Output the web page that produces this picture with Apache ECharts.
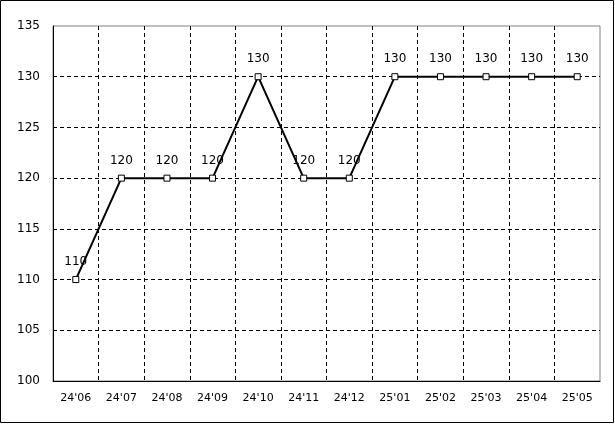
<!DOCTYPE html>
<html>
<head>
<meta charset="utf-8">
<script src="https://cdn.jsdelivr.net/npm/echarts@6/dist/echarts.min.js"></script>
<style>
html,body{margin:0;padding:0;background:#fff;}
#c{width:615px;height:424px;}
</style>
</head>
<body>
<div id="c"></div>
<script>
const categories = ["24'06","24'07","24'08","24'09","24'10","24'11","24'12","25'01","25'02","25'03","25'04","25'05"];
const values = [110,120,120,120,130,120,120,130,130,130,130,130];
const yMin = 100, yMax = 135, yStep = 5;

const chart = echarts.init(document.getElementById('c'), null, {renderer:'canvas'});
chart.setOption({
  animation:false,
  backgroundColor:'#fff',
  graphic:[{type:'rect',shape:{x:0.5,y:0.5,width:613,height:422},style:{fill:'none',stroke:'#000',lineWidth:1},z:100}],
  grid:{left:53,top:26,right:15,bottom:43,show:true,borderColor:'#808080',borderWidth:1,backgroundColor:'transparent'},
  xAxis:{
    type:'category',data:categories,boundaryGap:true,
    axisLine:{lineStyle:{color:'#000',width:1}},
    axisTick:{show:false},
    axisLabel:{color:'#000',fontFamily:'DejaVu Sans',fontSize:11,margin:12,interval:0},
    splitLine:{show:true,interval:0,showMinLine:false,showMaxLine:false,lineStyle:{color:'#000',type:[4,3],width:1}}
  },
  yAxis:{
    type:'value',min:yMin,max:yMax,interval:yStep,
    axisLine:{show:true,lineStyle:{color:'#000',width:1}},
    axisTick:{show:false},
    axisLabel:{color:'#000',fontFamily:'DejaVu Sans',fontSize:12,margin:13},
    splitLine:{show:true,showMinLine:false,showMaxLine:false,lineStyle:{color:'#000',type:[4,3],width:1}}
  },
  series:[{
    type:'line',data:values,
    symbol:'rect',symbolSize:6,showAllSymbol:true,
    lineStyle:{color:'#000',width:2},
    itemStyle:{color:'#fff',borderColor:'#000',borderWidth:1},
    label:{show:true,position:'top',distance:8,color:'#000',fontFamily:'DejaVu Sans',fontSize:12},
    z:5
  }]
});
</script>
</body>
</html>
